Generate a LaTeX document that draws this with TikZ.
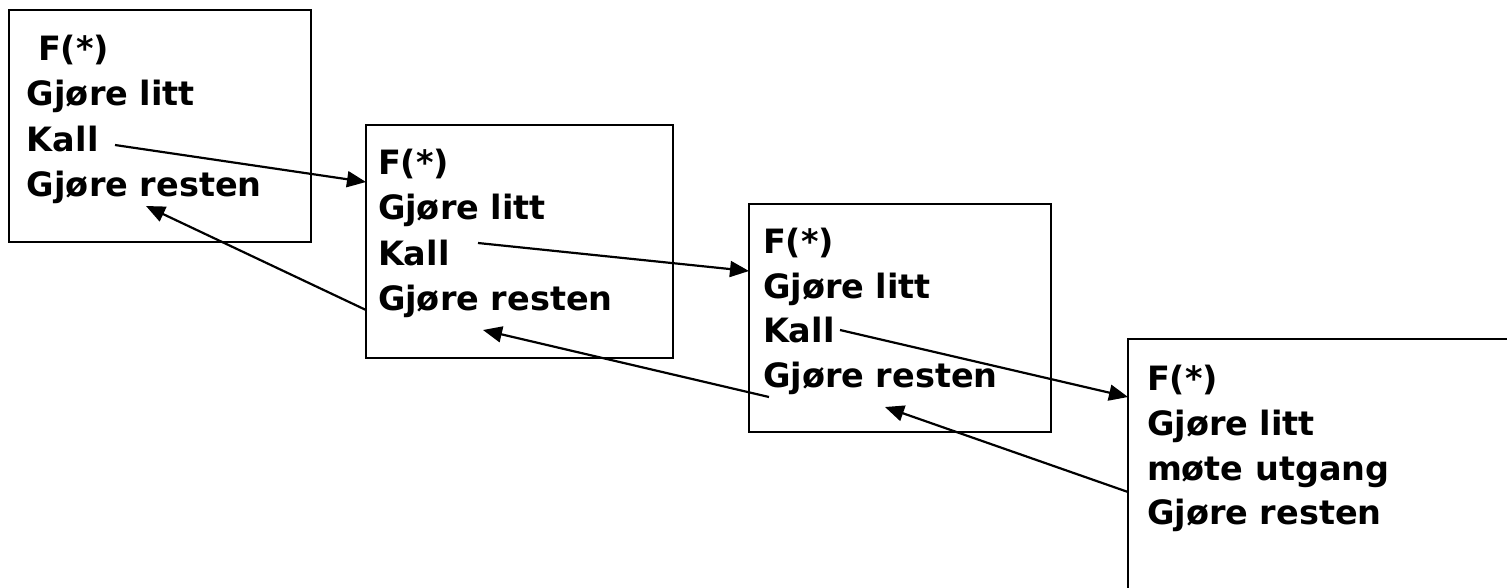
\documentclass[tikz,border=0pt]{standalone}
\usepackage{fontspec}
\setmainfont{DejaVu Sans}
\usetikzlibrary{arrows.meta}
\begin{document}
\begin{tikzpicture}[x=1pt,y=-1pt,
  box/.style={draw, line width=2pt, inner sep=0pt, outer sep=0pt, anchor=north west},
  txt/.style={anchor=base west, inner sep=0pt, outer sep=0pt, font=\fontsize{33.5}{40}\selectfont\bfseries},
  arr/.style={line width=2.2pt, -{Triangle[length=19pt,width=16pt]}}]
\clip (0,0) rectangle (1507,587);
\fill[white] (0,0) rectangle (1507,587);
% boxes
\node[box, minimum width=302pt, minimum height=232pt] (B1) at (9,10) {};
\node[box, minimum width=307pt, minimum height=233pt] (B2) at (366,125) {};
\node[box, minimum width=302pt, minimum height=228pt] (B3) at (749,204) {};
\node[box, minimum width=420pt, minimum height=300pt] (B4) at (1128,339) {};
% box 1 text
\node[txt] (t11) at (38,60) {F(*)};
\node[txt] (t12) at (27,105) {Gjøre litt};
\node[txt] (t13) at (27,151) {Kall};
\node[txt] (t14) at (27,196) {Gjøre resten};
% box 2 text
\node[txt] (t21) at (378,174) {F(*)};
\node[txt] (t22) at (378,219) {Gjøre litt};
\node[txt] (t23) at (378,265) {Kall};
\node[txt] (t24) at (378,310) {Gjøre resten};
% box 3 text
\node[txt] (t31) at (763,253) {F(*)};
\node[txt] (t32) at (763,298) {Gjøre litt};
\node[txt] (t33) at (763,342) {Kall};
\node[txt] (t34) at (763,387) {Gjøre resten};
% box 4 text
\node[txt] (t41) at (1147,390) {F(*)};
\node[txt] (t42) at (1147,435) {Gjøre litt};
\node[txt] (t43) at (1147,480) {møte utgang};
\node[txt] (t44) at (1147,524) {Gjøre resten};
% connector end points
\coordinate (c1s) at (115,145);
\coordinate (c1e) at (366,182);
\coordinate (r1s) at (366,310);
\coordinate (r1e) at (146,206);
\coordinate (c2s) at (478,243);
\coordinate (c2e) at (749,271);
\coordinate (r2s) at (769,397);
\coordinate (r2e) at (483,330);
\coordinate (c3s) at (840,330);
\coordinate (c3e) at (1128,397);
\coordinate (r3s) at (1128,492);
\coordinate (r3e) at (885,407);
% connectors
\draw[arr] (c1s) -- (c1e);
\draw[arr] (r1s) -- (r1e);
\draw[arr] (c2s) -- (c2e);
\draw[arr] (r2s) -- (r2e);
\draw[arr] (c3s) -- (c3e);
\draw[arr] (r3s) -- (r3e);
\end{tikzpicture}
\end{document}
